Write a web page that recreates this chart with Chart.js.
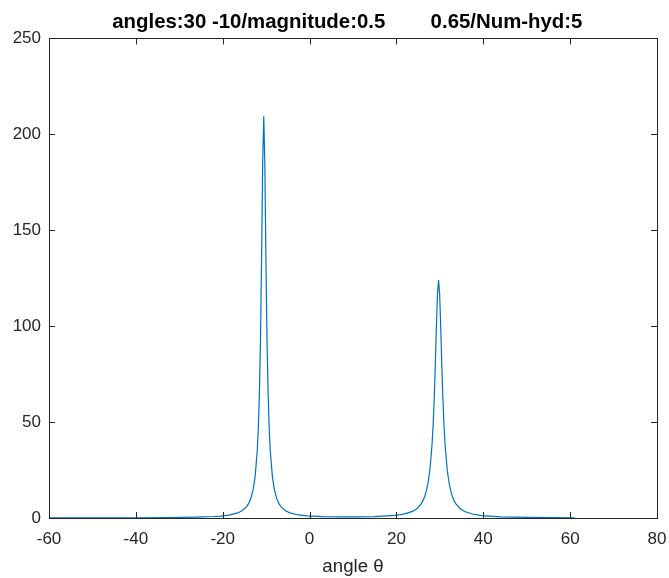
<!DOCTYPE html>
<html>
<head>
<meta charset="utf-8">
<script src="https://cdn.jsdelivr.net/npm/chart.js@4/dist/chart.umd.min.js"></script>
<style>
  html, body { margin: 0; padding: 0; background: #fff; }
</style>
</head>
<body>
<canvas id="grafico" width="669" height="578"></canvas>
<script>
// valores (ângulo em graus, amplitude do espectro)
const angulos = [
  -60, -50, -40, -32, -26, -22, -20.55, -18.55, -16.55, -15.55, -14.55, -14.05, -13.55, -13.05,
  -12.55, -12.05, -11.8, -11.55, -11.3, -11.05, -10.8,
  -10.55,
  -10.3, -10.05, -9.8, -9.55, -9.3, -9.05, -8.55, -8.05, -7.55, -7.05, -6.55, -5.55, -4.55,
  -2.55, -0.55, 3, 7, 11, 15, 19.7, 21.7, 23.7, 24.7, 25.7, 26.2, 26.7, 27.2, 27.7, 28.2,
  28.45, 28.7, 28.95, 29.2, 29.45,
  29.7,
  29.95, 30.2, 30.45, 30.7, 30.95, 31.2, 31.7, 32.2, 32.7, 33.2, 33.7, 34.7, 35.7, 37.7,
  39.7, 44, 50, 56, 61
];
const amplitudes = [
  0.05, 0.08, 0.13, 0.24, 0.44, 0.77, 0.99, 1.51, 2.64, 3.76, 5.78, 7.48, 10.05, 14.1,
  21.3, 34.9, 47.0, 65.1, 93.3, 134.9, 184.4,
  209.5,
  184.4, 134.9, 93.4, 65.2, 47.0, 35.0, 21.3, 14.2, 10.1, 7.5, 5.8, 3.81, 2.69,
  1.58, 1.08, 0.68, 0.55, 0.56, 0.71, 1.33, 2.0, 3.43, 4.85, 7.36, 9.43, 12.47, 17.2, 24.9, 38.3,
  48.5, 62.1, 79.4, 99.3, 116.8,
  124.0,
  116.8, 99.3, 79.4, 62.1, 48.5, 38.3, 24.9, 17.2, 12.45, 9.4, 7.35, 4.83, 3.41, 1.95,
  1.27, 0.63, 0.32, 0.20, 0.14
];
const ticksX = [-60, -40, -20, 0, 20, 40, 60, 80];
const ticksY = [0, 50, 100, 150, 200, 250];
const titulo = 'angles:30 -10/magnitude:0.5        0.65/Num-hyd:5  ';

const corEixo = '#262626';

// desenha a caixa do eixo e as marcas para dentro (estilo MATLAB)
const caixaPlugin = {
  id: 'caixa',
  afterDraw(chart) {
    const { ctx, chartArea: a, scales } = chart;
    const tam = 6;
    ctx.save();
    ctx.strokeStyle = corEixo;
    ctx.lineWidth = 1;
    ctx.beginPath();
    scales.x.ticks.forEach(t => {
      const px = Math.round(scales.x.getPixelForValue(t.value)) + 0.5;
      ctx.moveTo(px, a.bottom); ctx.lineTo(px, a.bottom - tam);
      ctx.moveTo(px, a.top); ctx.lineTo(px, a.top + tam);
    });
    scales.y.ticks.forEach(t => {
      const py = Math.round(scales.y.getPixelForValue(t.value)) + 0.5;
      ctx.moveTo(a.left, py); ctx.lineTo(a.left + tam, py);
      ctx.moveTo(a.right, py); ctx.lineTo(a.right - tam, py);
    });
    ctx.stroke();
    ctx.strokeRect(Math.round(a.left) + 0.5, Math.round(a.top) + 0.5,
      Math.round(a.right - a.left), Math.round(a.bottom - a.top));
    ctx.restore();
  }
};

const fonteBase = "'Liberation Sans', Arial, Helvetica, sans-serif";

new Chart(document.getElementById('grafico'), {
  type: 'line',
  data: {
    datasets: [{
      data: angulos.map((x, i) => ({ x, y: amplitudes[i] })),
      borderColor: '#0072BD',
      borderWidth: 1.2,
      pointRadius: 0,
      tension: 0,
      fill: false
    }]
  },
  options: {
    responsive: false,
    animation: false,
    layout: { padding: { left: 0, right: 12, top: 0, bottom: 0 } },
    plugins: {
      legend: { display: false },
      tooltip: { enabled: false },
      title: {
        display: true,
        fullSize: false,
        text: titulo,
        color: '#000',
        font: { family: fonteBase, size: 20.4, weight: 'bold' },
        padding: { top: 10.5, bottom: 3.5 }
      }
    },
    scales: {
      x: {
        type: 'linear',
        min: -60, max: 80,
        afterBuildTicks: s => { s.ticks = ticksX.map(v => ({ value: v })); },
        afterFit: s => { s.height = 60; s.paddingLeft = 0; s.paddingRight = 0; },
        grid: { display: false, drawTicks: false },
        border: { display: false },
        ticks: { color: corEixo, font: { family: fonteBase, size: 17 }, padding: 11, maxRotation: 0 },
        title: {
          display: true,
          text: 'angle θ',
          color: corEixo,
          font: { family: fonteBase, size: 18.7 },
          padding: { top: 0, bottom: 0 }
        }
      },
      y: {
        min: 0, max: 250,
        afterBuildTicks: s => { s.ticks = ticksY.map(v => ({ value: v })); },
        afterFit: s => { s.width = 49; s.paddingTop = 0; s.paddingBottom = 0; },
        grid: { display: false, drawTicks: false },
        border: { display: false },
        ticks: { color: corEixo, font: { family: fonteBase, size: 17 }, padding: 8 }
      }
    }
  },
  plugins: [caixaPlugin]
});
</script>
</body>
</html>
